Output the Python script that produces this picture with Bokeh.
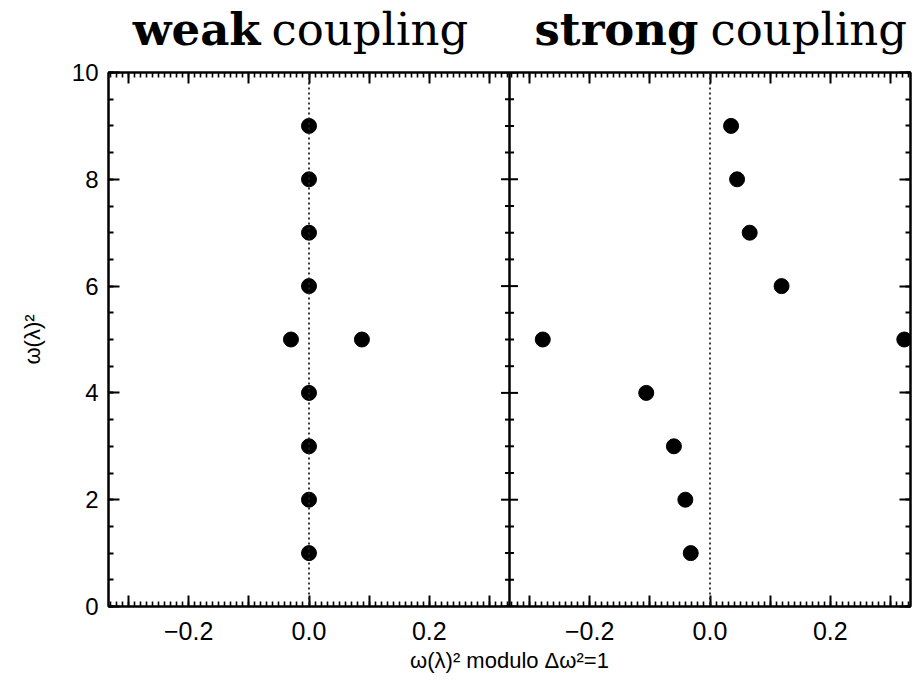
import numpy as np
from bokeh.plotting import figure
from bokeh.layouts import column
from bokeh.models import (Range1d, LinearAxis, FixedTicker, SingleIntervalTicker,
                          CustomJSTickFormatter, Span, ColumnDataSource)
from bokeh.core.properties import value
from bokeh.transform import dodge
from bokeh.embed import file_html
from bokeh.resources import INLINE

# ---- data ----
level = [1, 2, 3, 4, 5, 5, 6, 7, 8, 9]                      # omega(lambda)^2 (y)
weak_x = [0.0, 0.0, 0.0, 0.0, -0.030, 0.088, 0.0, 0.0, 0.0, 0.0]
strong_x = [-0.032, -0.041, -0.060, -0.106, -0.278, 0.323, 0.119, 0.066, 0.045, 0.035]
title_bold = ["weak", "strong"]
title_normal = ["coupling", "coupling"]
x_tick_labels = [-0.2, 0.0, 0.2]

HALF = 1 / 3           # each panel spans -1/3 .. 1/3
SHIFT = 2 * HALF       # right panel offset along the shared x axis

FONT = "Liberation Sans"
SERIF = "DejaVu Serif"

x_range = Range1d(-HALF, HALF + SHIFT)

# ---- title strip ----
T_H = 58
t = figure(width=916, height=T_H, x_range=x_range, y_range=Range1d(0, T_H),
           output_backend="svg", toolbar_location=None, x_axis_location=None,
           y_axis_location=None,
           min_border_left=108, min_border_right=6, min_border_top=0, min_border_bottom=0)
t.grid.visible = False
t.outline_line_color = None
t.border_fill_color = "white"
t.background_fill_color = "white"
TITLE_Y = 29
t.text(x=[-0.0806, 0.6476], y=[TITLE_Y, TITLE_Y], text=title_bold, text_align="right",
       text_baseline="alphabetic", text_font=value(SERIF), text_font_size="45px",
       text_font_style="bold", text_color="black")
t.text(x=[-0.0623, 0.6675], y=[TITLE_Y, TITLE_Y], text=title_normal, text_align="left",
       text_baseline="alphabetic", text_font=value(SERIF), text_font_size="45px",
       text_color="black")

# ---- main panels ----
p = figure(width=916, height=681 - T_H, x_range=x_range,
           y_range=Range1d(0, 10), output_backend="svg", toolbar_location=None,
           min_border_left=108, min_border_right=6, min_border_top=72 - T_H,
           min_border_bottom=75)
p.grid.visible = False
p.outline_line_color = "black"
p.outline_line_width = 2
p.background_fill_color = "white"
p.border_fill_color = "white"

major_x = []
minor_x = []
for off in (0.0, SHIFT):
    major_x += [round(v, 2) + off for v in np.arange(-0.3, 0.31, 0.1)]
    minor_x += [round(v, 2) + off for v in np.arange(-0.33, 0.335, 0.01)]
x_ticker = FixedTicker(ticks=major_x, minor_ticks=minor_x)

fmt = CustomJSTickFormatter(args=dict(half=HALF, shift=SHIFT, labeled=x_tick_labels), code="""
const v = tick > half ? tick - shift : tick;
for (const l of labeled) {
  if (Math.abs(v - l) < 1e-6) {
    return (l < -1e-9 ? "\\u2212" : "") + Math.abs(l).toFixed(1);
  }
}
return "";
""")
blank = CustomJSTickFormatter(code="return '';")

def style_common(ax, labels, standoff, size):
    ax.major_tick_in = 11
    ax.major_tick_out = 0
    ax.minor_tick_in = 5
    ax.minor_tick_out = 0
    ax.major_tick_line_width = 2
    ax.minor_tick_line_width = 1.6
    ax.axis_line_width = 2
    ax.major_label_text_font = FONT
    ax.major_label_text_font_size = size
    ax.major_label_text_color = "black"
    ax.major_label_standoff = standoff if labels else 0

def style_x(ax, labels):
    ax.ticker = x_ticker
    ax.formatter = fmt if labels else blank
    style_common(ax, labels, 15, "25px")

def style_y(ax, labels):
    ax.ticker = SingleIntervalTicker(interval=2, num_minor_ticks=4)
    ax.formatter = CustomJSTickFormatter(code="return tick.toFixed(0);") if labels else blank
    style_common(ax, labels, 10, "24px")
    ax.minor_tick_line_width = 2

style_x(p.xaxis[0], True)
style_y(p.yaxis[0], True)
p.xaxis[0].axis_label = "ω(λ)² modulo Δω²=1"
p.yaxis[0].axis_label = "ω(λ)²"
for ax in (p.xaxis[0], p.yaxis[0]):
    ax.axis_label_text_font = FONT
    ax.axis_label_text_font_size = "22px"
    ax.axis_label_text_font_style = "normal"
    ax.axis_label_text_color = "black"
p.xaxis[0].axis_label_standoff = 5
p.yaxis[0].axis_label_standoff = 24

top = LinearAxis()
style_x(top, False)
p.add_layout(top, "above")
right = LinearAxis()
style_y(right, False)
p.add_layout(right, "right")

# ---- panel divider and zero lines ----
p.add_layout(Span(location=HALF, dimension="height", line_color="black", line_width=2.5))
for off in (0.0, SHIFT):
    p.add_layout(Span(location=off, dimension="height", line_color="#222222",
                      line_width=1.8, line_dash="2 3"))

# tick marks on the divider
div_major = list(np.arange(0, 10.01, 2))
div_minor = [v for v in np.arange(0.5, 10, 0.5) if v % 2 != 0]
p.scatter(x=[HALF] * len(div_major), y=div_major, marker="dash", size=17,
          line_color="black", line_width=2)
p.scatter(x=[HALF] * len(div_minor), y=div_minor, marker="dash", size=9,
          line_color="black", line_width=2)

# ---- points ----
src_w = ColumnDataSource(dict(x=weak_x, y=level))
src_s = ColumnDataSource(dict(x=strong_x, y=level))
p.scatter(x="x", y="y", source=src_w, size=15, color="black")
p.scatter(x=dodge("x", SHIFT, range=x_range), y="y", source=src_s, size=15, color="black")

layout = column(t, p, spacing=0)
open("out.html", "w").write(file_html(layout, INLINE))
